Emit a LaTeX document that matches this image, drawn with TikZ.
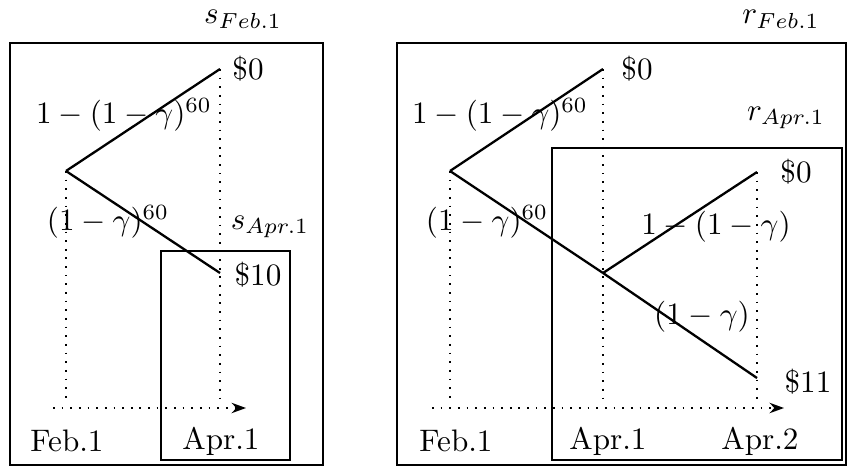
\documentclass[tikz,border=0pt]{standalone}
\usetikzlibrary{arrows.meta}
\begin{document}
\begin{tikzpicture}[x=0.347pt,y=-0.347pt,
  branch/.style={line width=0.8pt},
  frame/.style={line width=0.5pt},
  guide/.style={line width=0.6pt,dash pattern=on 0.6pt off 2.4pt},
  timeaxis/.style={guide,-{Stealth[length=5pt,width=3.6pt]}},
  lbl/.style={inner sep=0pt,anchor=center,scale=1.08}]
\useasboundingbox (0,0) rectangle (847,468);
% ---------------- left panel ----------------
\draw[frame] (10,43) rectangle (323,465);
\draw[frame] (161,251) rectangle (290,460);
\coordinate (sroot) at (66,171);
\coordinate (stop) at (220,69);
\coordinate (sbot) at (220,273);
\coordinate (sbaseA) at (66,400);
\coordinate (sbaseB) at (220,400);
\coordinate (saxL) at (53,408);
\coordinate (saxR) at (246,408);
\draw[guide] (sroot) -- (sbaseA);
\draw[guide] (stop) -- (sbaseB);
\draw[timeaxis] (saxL) -- (saxR);
\draw[branch] (sroot) -- (stop);
\draw[branch] (sroot) -- (sbot);
\node[lbl] (sF) at (243,19) {$s_{Feb.1}$};
\node[lbl] (sA) at (270,227) {$s_{Apr.1}$};
\node[lbl] (s0) at (248,69) {\$0};
\node[lbl] (s10) at (258,275) {\$10};
\node[lbl] (sp1) at (124,115) {$1-(1-\gamma)^{60}$};
\node[lbl] (sp2) at (108,222) {$(1-\gamma)^{60}$};
\node[lbl] (sfeb) at (67,441) {Feb.1};
\node[lbl] (sapr) at (221,441) {Apr.1};
% ---------------- right panel ----------------
\draw[frame] (397,43) rectangle (846,465);
\draw[frame] (552,148) rectangle (842,460);
\coordinate (rroot) at (450,171);
\coordinate (rtop) at (603,69);
\coordinate (rmid) at (603,273);
\coordinate (rtop2) at (757,172);
\coordinate (rbot2) at (757,378);
\coordinate (rbaseA) at (450,400);
\coordinate (rbaseB) at (603,400);
\coordinate (rbaseC) at (757,400);
\coordinate (raxL) at (432,408);
\coordinate (raxR) at (784,408);
\draw[guide] (rroot) -- (rbaseA);
\draw[guide] (rtop) -- (rbaseB);
\draw[guide] (rtop2) -- (rbaseC);
\draw[timeaxis] (raxL) -- (raxR);
\draw[branch] (rroot) -- (rtop);
\draw[branch] (rroot) -- (rmid);
\draw[branch] (rmid) -- (rtop2);
\draw[branch] (rmid) -- (rbot2);
\node[lbl] (rF) at (781,19) {$r_{Feb.1}$};
\node[lbl] (rA) at (786,118) {$r_{Apr.1}$};
\node[lbl] (r0) at (637,69) {\$0};
\node[lbl] (r0b) at (796,172) {\$0};
\node[lbl] (r11) at (808,382) {\$11};
\node[lbl] (rp1) at (500,115) {$1-(1-\gamma)^{60}$};
\node[lbl] (rp2) at (487,222) {$(1-\gamma)^{60}$};
\node[lbl] (rp3) at (716,227) {$1-(1-\gamma)$};
\node[lbl] (rp4) at (702,317) {$(1-\gamma)$};
\node[lbl] (rfeb) at (456,441) {Feb.1};
\node[lbl] (rapr1) at (608,441) {Apr.1};
\node[lbl] (rapr2) at (760,441) {Apr.2};
\end{tikzpicture}
\end{document}
